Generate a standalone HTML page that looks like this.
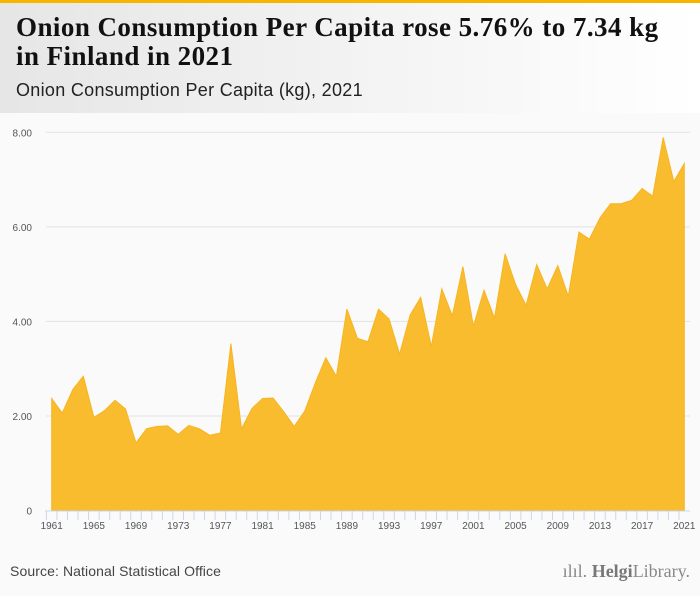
<!DOCTYPE html>
<html><head><meta charset="utf-8"><style>
body{margin:0;width:700px;height:596px;overflow:hidden;background:#fafafa;font-family:"Liberation Sans",sans-serif}
#top{position:absolute;left:0;top:0;width:700px;height:3px;background:#f7b500}
#hdr{position:absolute;left:0;top:3px;width:700px;height:110px;background:linear-gradient(90deg,#e6e6e6,#ffffff)}
#title{position:absolute;left:16px;top:13px;font-family:"Liberation Serif",serif;font-weight:bold;font-size:27px;line-height:29px;color:#111;letter-spacing:0.45px;white-space:nowrap}
#sub{position:absolute;left:16px;top:80px;font-size:18px;letter-spacing:0.3px;color:#222}
#src{position:absolute;left:10px;top:563px;font-size:14px;letter-spacing:0.1px;color:#444}
#logo{position:absolute;right:10px;top:561px;font-family:"Liberation Serif",serif;font-size:18px;color:#888}
svg{position:absolute;left:0;top:0}
</style></head><body>
<div id="top"></div>
<div id="hdr"></div>
<div id="title">Onion Consumption Per Capita rose 5.76% to 7.34 kg<br>in Finland in 2021</div>
<div id="sub">Onion Consumption Per Capita (kg), 2021</div>
<svg id="chart" width="700" height="596"></svg>
<div id="src">Source: National Statistical Office</div>
<div id="logo">ılıl. <b style="color:#777">Helgi</b>Library.</div>
<script>
const years=[];for(let y=1961;y<=2021;y++)years.push(y);
const values=[2.37,2.06,2.56,2.84,1.97,2.11,2.33,2.15,1.43,1.73,1.78,1.79,1.61,1.80,1.73,1.59,1.64,3.53,1.73,2.16,2.37,2.38,2.09,1.78,2.10,2.70,3.23,2.84,4.26,3.64,3.57,4.26,4.05,3.31,4.14,4.51,3.47,4.69,4.12,5.16,3.90,4.66,4.07,5.43,4.78,4.34,5.20,4.69,5.18,4.53,5.89,5.74,6.19,6.49,6.49,6.56,6.81,6.65,7.89,6.96,7.34];
const yTicks=[0,2,4,6,8];
const yTickLabels=["0","2.00","4.00","6.00","8.00"];
const ns="http://www.w3.org/2000/svg";
const svg=document.getElementById('chart');
const x0=51.7,x1=684.3,yb=510.5,yt=132.3;
const xs=y=>x0+(y-1961)*(x1-x0)/60;
const ys=v=>yb-v*(yb-yt)/8;
function el(t,a){const e=document.createElementNS(ns,t);for(const k in a)e.setAttribute(k,a[k]);svg.appendChild(e);return e;}
yTicks.forEach((t,i)=>{
 if(t>0){const g=el('line',{x1:46,x2:690,y1:ys(t),y2:ys(t),stroke:'#e2e2e2','stroke-width':1});
 
 }
 const l=el('text',{x:32,y:ys(t)+4,'text-anchor':'end','font-size':10,fill:'#555','font-family':'Liberation Sans'});
 l.textContent=yTickLabels[i];
 
 
});
let d='M'+xs(years[0])+','+yb;
years.forEach((y,i)=>{d+=' L'+xs(y).toFixed(1)+','+ys(values[i]).toFixed(1);});
d+=' L'+xs(years[years.length-1])+','+yb+' Z';
const a=el('path',{d:d,fill:'#f9bc2f',stroke:'#f7b520','stroke-width':1});


const ax=el('line',{x1:45,x2:690,y1:511,y2:511,stroke:'#ccd6eb','stroke-width':1});


years.forEach((y,i)=>{
 const tx=xs(y)-5.3;
 const tk=el('line',{x1:tx,x2:tx,y1:511,y2:520,stroke:'#ccd6eb','stroke-width':1});
 
 
 if((y-1961)%4===0){
  const t=el('text',{x:xs(y),y:529,'text-anchor':'middle','font-size':10,fill:'#555','font-family':'Liberation Sans'});
  t.textContent=y;
  
  
 }
});
</script>
</body></html>
